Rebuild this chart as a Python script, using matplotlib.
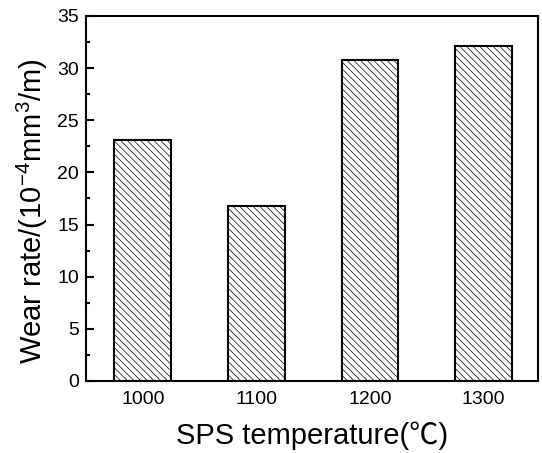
import matplotlib
matplotlib.use("Agg")
import matplotlib.pyplot as plt
from matplotlib.ticker import MultipleLocator

categories = ["1000", "1100", "1200", "1300"]
wear_rate = [23.1, 16.8, 30.8, 32.1]

plt.rcParams['font.family'] = ['Liberation Sans', 'DejaVu Sans', 'Noto Sans CJK SC']
plt.rcParams['mathtext.default'] = 'regular'
plt.rcParams['hatch.color'] = '#666666'
plt.rcParams['hatch.linewidth'] = 0.5

fig = plt.figure(figsize=(5.42, 4.53), dpi=100)
ax = fig.add_axes([0.1587, 0.159, 0.834, 0.8057])

x = range(len(categories))
ax.bar(x, wear_rate, width=0.5, color='white', edgecolor='black', linewidth=1.5, hatch='\\\\\\\\\\')

ax.set_xlim(-0.5, 3.48)
ax.set_ylim(0, 35)
ax.set_xticks(list(x))
ax.set_xticklabels(categories)
ax.yaxis.set_major_locator(MultipleLocator(5))
ax.yaxis.set_minor_locator(MultipleLocator(2.5))
ax.tick_params(axis='y', which='major', direction='in', length=6, width=1.5, labelsize=14, right=False, pad=5)
ax.tick_params(axis='y', which='minor', direction='in', length=3, width=1.5, right=False)
ax.tick_params(axis='x', which='major', length=0, labelsize=14, pad=7)
for s in ax.spines.values():
    s.set_linewidth(1.5)

ax.set_xlabel('SPS temperature(℃)', fontsize=21, labelpad=10,
              family=['Liberation Sans', 'Noto Sans CJK SC', 'DejaVu Sans'])
ax.set_ylabel(r'Wear rate/(10$^{-4}$mm$^{3}$/m)', fontsize=21)
ax.yaxis.set_label_coords(-0.08, 0.465)

fig.savefig('out.png', dpi=100)
